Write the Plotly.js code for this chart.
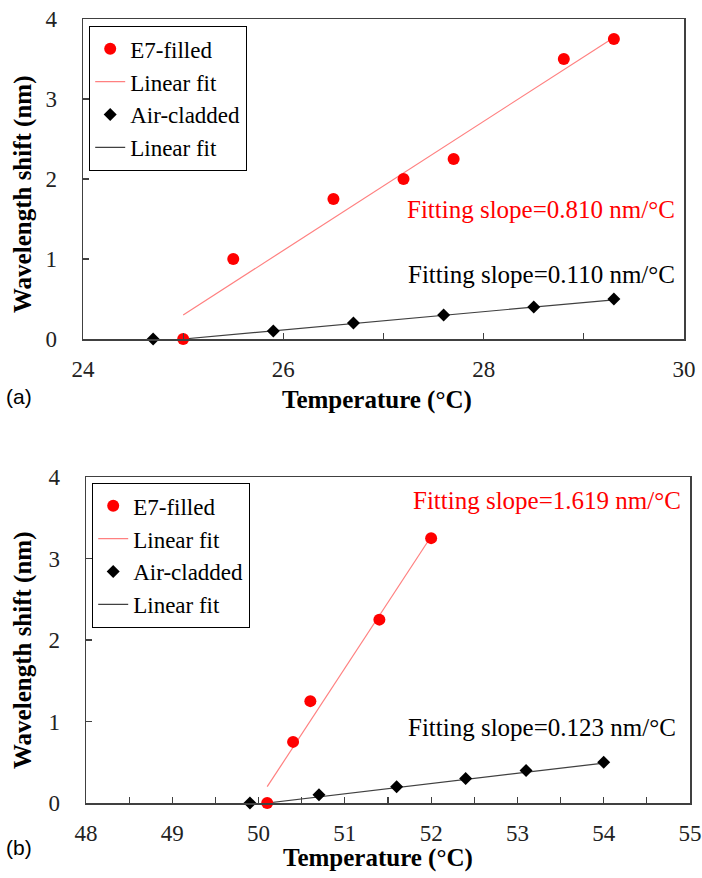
<!DOCTYPE html>
<html>
<head>
<meta charset="utf-8">
<script src="https://cdn.plot.ly/plotly-3.0.1.min.js"></script>
<style>html,body{margin:0;padding:0;background:#fff;}#chart{width:702px;height:878px;}</style>
</head>
<body>
<div id="chart"></div>
<script>
// ---- Panel (a) data ----
const e7TempA = [25.0, 25.5, 26.5, 27.2, 27.7, 28.8, 29.3];
const e7ShiftA = [0, 1.0, 1.75, 2.0, 2.25, 3.5, 3.75];
const e7FitTempA = [25.0, 29.3];
const e7FitShiftA = [0.3, 3.77];
const airTempA = [24.7, 25.9, 26.7, 27.6, 28.5, 29.3];
const airShiftA = [0, 0.1, 0.2, 0.3, 0.4, 0.5];
const airFitTempA = [25.0, 29.3];
const airFitShiftA = [0.0, 0.49];

// ---- Panel (b) data ----
const e7TempB = [50.1, 50.4, 50.6, 51.4, 52.0];
const e7ShiftB = [0, 0.75, 1.25, 2.25, 3.25];
const e7FitTempB = [50.1, 52.0];
const e7FitShiftB = [0.2, 3.27];
const airTempB = [49.9, 50.7, 51.6, 52.4, 53.1, 54.0];
const airShiftB = [0, 0.1, 0.2, 0.3, 0.4, 0.5];
const airFitTempB = [50.1, 54.0];
const airFitShiftB = [0.0, 0.49];

const seriesNames = ["E7-filled", "Linear fit", "Air-cladded", "Linear fit"];
const slopeTexts = ["Fitting slope=0.810 nm/°C", "Fitting slope=0.110 nm/°C",
                    "Fitting slope=1.619 nm/°C", "Fitting slope=0.123 nm/°C"];
const panelLabels = ["(a)", "(b)"];
const xTitle = "Temperature (°C)";
const yTitle = "Wavelength shift (nm)";

const W = 702, H = 878;
const px = v => v / W;
const py = v => 1 - v / H;
const SERIF = "Liberation Serif";
const SANS = "Liberation Sans";
const RED = "#ff0000";

function traces(xa, ya, leg, e7x, e7y, fx, fy, ax, ay, afx, afy) {
  return [
    {x: fx, y: fy, xaxis: xa, yaxis: ya, legend: leg, mode: "lines", name: seriesNames[1], legendrank: 2,
     line: {color: "#ff8080", width: 1.2}, cliponaxis: false},
    {x: afx, y: afy, xaxis: xa, yaxis: ya, legend: leg, mode: "lines", name: seriesNames[3], legendrank: 4,
     line: {color: "#404040", width: 1.2}, cliponaxis: false},
    {x: ax, y: ay, xaxis: xa, yaxis: ya, legend: leg, mode: "markers", name: seriesNames[2], legendrank: 3,
     marker: {symbol: "diamond", color: "#000", size: 10}, cliponaxis: false},
    {x: e7x, y: e7y, xaxis: xa, yaxis: ya, legend: leg, mode: "markers", name: seriesNames[0], legendrank: 1,
     marker: {symbol: "circle", color: RED, size: 12}, cliponaxis: false}
  ];
}

const data = [
  ...traces("x", "y", "legend", e7TempA, e7ShiftA, e7FitTempA, e7FitShiftA, airTempA, airShiftA, airFitTempA, airFitShiftA),
  ...traces("x2", "y2", "legend2", e7TempB, e7ShiftB, e7FitTempB, e7FitShiftB, airTempB, airShiftB, airFitTempB, airFitShiftB)
];

function tickFont() { return {family: SERIF, size: 23, color: "#222"}; }
function xax(domain, range, dtick, minorDtick, anchor) {
  return {domain: domain, range: range, anchor: anchor, dtick: dtick, tick0: range[0],
    showgrid: false, zeroline: false, showline: true, mirror: true, linecolor: "#404040", linewidth: 1.5,
    ticks: "inside", ticklen: 6, tickwidth: 1.2, tickcolor: "#404040",
    minor: {dtick: minorDtick, ticks: "inside", ticklen: 6, tickwidth: 1.2, tickcolor: "#404040", showgrid: false},
    tickfont: tickFont(), ticklabelstandoff: 9, fixedrange: true};
}
function yax(domain, anchor) {
  return {domain: domain, range: [0, 4], anchor: anchor, dtick: 1, tick0: 0,
    showgrid: false, zeroline: false, showline: true, mirror: true, linecolor: "#404040", linewidth: 1.5,
    ticks: "inside", ticklen: 6, tickwidth: 1.2, tickcolor: "#404040",
    tickfont: tickFont(), ticklabelstandoff: 20, fixedrange: true};
}

function legendOpts(x, y) {
  return {x: x, y: y, bgcolor: "#fff", bordercolor: "#000", borderwidth: 1.2,
    font: {family: SERIF, size: 23, color: "#000"}, xanchor: "left", yanchor: "top", traceorder: "normal"};
}

function ann(text, x, y, opts) {
  return Object.assign({text: text, x: x, y: y, xref: "paper", yref: "paper", showarrow: false,
    xanchor: "center", yanchor: "middle", font: {family: SERIF, size: 25, color: "#000"}}, opts || {});
}

const layout = {
  width: W, height: H, margin: {l: 0, r: 0, t: 0, b: 0},
  font: {family: SERIF, size: 23, color: "#000"},
  paper_bgcolor: "#fff", plot_bgcolor: "#fff", showlegend: true,
  xaxis: xax([px(83), px(684)], [24, 30], 2, 1, "y"),
  yaxis: yax([py(339), py(19)], "x"),
  xaxis2: xax([px(86), px(690)], [48, 55], 1, 0.5, "y2"),
  yaxis2: yax([py(803), py(477)], "x2"),
  legend: legendOpts(px(89), py(26)),
  legend2: legendOpts(px(92), py(483)),
  annotations: [
    ann(slopeTexts[0], px(677), py(209), {xanchor: "right", font: {family: SERIF, size: 25, color: RED}}),
    ann(slopeTexts[1], px(677), py(274), {xanchor: "right"}),
    ann(slopeTexts[2], px(683), py(500), {xanchor: "right", font: {family: SERIF, size: 25, color: RED}}),
    ann(slopeTexts[3], px(678), py(727), {xanchor: "right"}),
    ann("<b>" + xTitle + "</b>", px(377), py(400)),
    ann("<b>" + xTitle + "</b>", px(378), py(858)),
    ann("<b>" + yTitle + "</b>", px(23), py(194), {textangle: -90}),
    ann("<b>" + yTitle + "</b>", px(23), py(650), {textangle: -90}),
    ann(panelLabels[0], px(4), py(397), {xanchor: "left", font: {family: SANS, size: 21, color: "#000"}}),
    ann(panelLabels[1], px(4), py(847), {xanchor: "left", font: {family: SANS, size: 21, color: "#000"}})
  ]
};

Plotly.newPlot("chart", data, layout, {displayModeBar: false, staticPlot: true});
</script>
</body>
</html>
